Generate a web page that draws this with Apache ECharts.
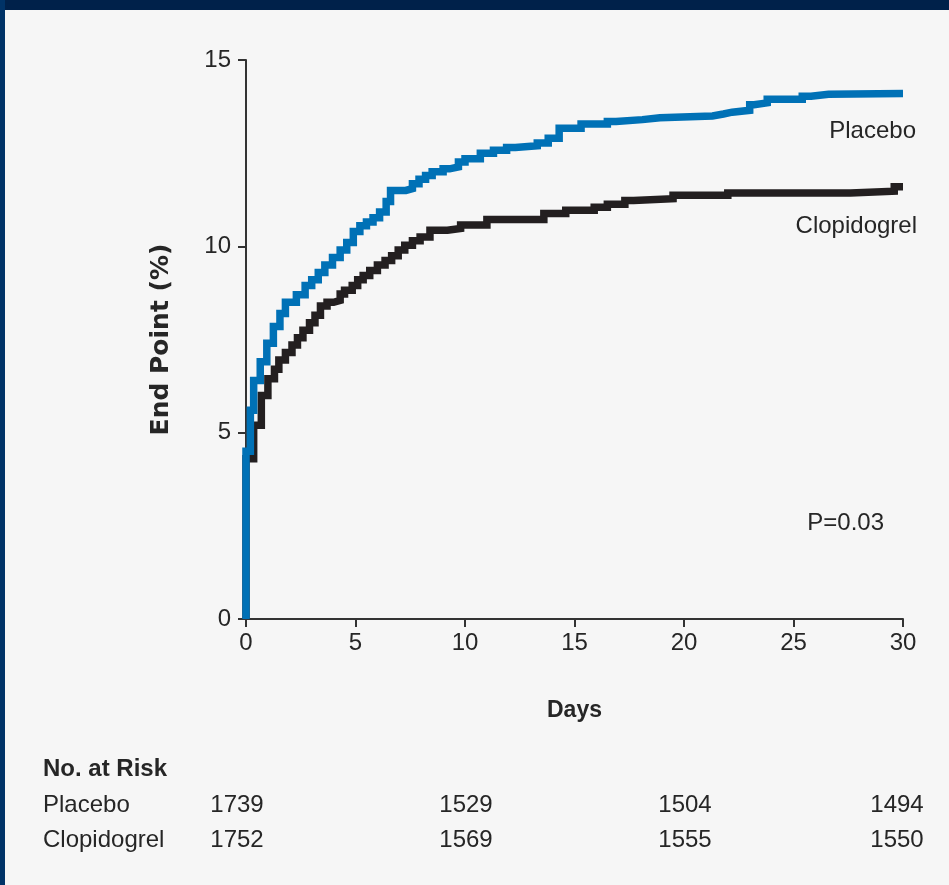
<!DOCTYPE html>
<html>
<head>
<meta charset="utf-8">
<script src="https://cdn.jsdelivr.net/npm/echarts@6/dist/echarts.min.js"></script>
<style>
html,body{margin:0;padding:0;background:#f6f6f6;}
#c{width:949px;height:885px;}
</style>
</head>
<body>
<div id="c"></div>
<script>
// ---- data ----
var placeboDays = [0, 0.2, 0.35, 0.65, 0.95, 1.25, 1.55, 1.8, 2.3, 2.7, 3.0, 3.3, 3.6, 3.95, 4.3, 4.6, 4.9, 5.2, 5.5, 5.8, 6.1, 6.4, 6.6, 7.3, 7.6, 7.9, 8.2, 8.5, 9.0, 9.3, 9.7, 10.0, 10.7, 11.3, 11.9, 12.3, 13.3, 13.8, 14.3, 15.3, 16.5, 16.9, 18.1, 18.9, 21.3, 21.8, 22.2, 23.0, 23.2, 23.8, 25.4, 25.8, 26.6, 30];
var placeboPct  = [4.5, 5.6, 6.4, 6.9, 7.4, 7.85, 8.2, 8.5, 8.7, 8.95, 9.1, 9.3, 9.5, 9.7, 9.9, 10.1, 10.4, 10.55, 10.65, 10.77, 10.92, 11.2, 11.5, 11.55, 11.68, 11.8, 11.9, 12.0, 12.08, 12.13, 12.26, 12.35, 12.5, 12.58, 12.65, 12.7, 12.77, 12.9, 13.17, 13.28, 13.35, 13.4, 13.45, 13.5, 13.55, 13.6, 13.65, 13.8, 13.85, 13.95, 14.03, 14.08, 14.1, 14.1];
var clopDays = [0, 0.35, 0.7, 1.0, 1.3, 1.5, 1.8, 2.1, 2.35, 2.6, 2.9, 3.15, 3.4, 3.7, 4.0, 4.3, 4.5, 4.85, 5.1, 5.35, 5.65, 6.0, 6.35, 6.65, 6.95, 7.25, 7.6, 7.95, 8.4, 9.2, 9.8, 11.0, 13.6, 14.6, 15.9, 16.5, 17.3, 17.7, 19.5, 22.0, 27.6, 29.6, 30];
var clopPct  = [4.3, 5.2, 6.0, 6.45, 6.7, 6.95, 7.15, 7.35, 7.55, 7.75, 7.95, 8.15, 8.4, 8.5, 8.55, 8.72, 8.82, 8.95, 9.1, 9.22, 9.35, 9.5, 9.62, 9.75, 9.9, 10.03, 10.15, 10.25, 10.43, 10.48, 10.57, 10.72, 10.88, 10.97, 11.05, 11.13, 11.23, 11.28, 11.37, 11.43, 11.48, 11.6, 11.6];
var yTicks = [0, 5, 10, 15];
var xTicks = [0, 5, 10, 15, 20, 25, 30];
var riskDays = [0, 10, 20, 30];
var riskPlacebo = [1739, 1529, 1504, 1494];
var riskClop = [1752, 1569, 1555, 1550];
var groupNames = ['Placebo', 'Clopidogrel'];
var pValueText = 'P=0.03';

// ---- styles ----
var FONT = '"Liberation Sans", Arial, sans-serif';
var TXT = '#262626';
var BLUE = '#0071b6';
var BLACK = '#231f20';
var FS = 24;

function pairs(xs, ys) {
  var out = [[0, 0]];
  for (var i = 0; i < xs.length; i++) out.push([xs[i], ys[i]]);
  return out;
}

var chart = echarts.init(document.getElementById('c'), null, {renderer: 'canvas'});
var option = {
  backgroundColor: '#f6f6f6',
  animation: false,
  grid: {left: 246, right: 46, top: 60, bottom: 266, containLabel: false},
  xAxis: {
    type: 'value', min: 0, max: 30, interval: 5,
    name: 'Days', nameLocation: 'middle', nameGap: 80,
    nameTextStyle: {fontFamily: FONT, fontWeight: 'bold', fontSize: 23, color: TXT},
    axisLine: {show: true, onZero: false, lineStyle: {color: '#333', width: 2}},
    axisTick: {show: true, inside: false, length: 8, lineStyle: {color: '#333', width: 2}},
    axisLabel: {fontFamily: FONT, fontSize: FS, color: TXT, margin: 12,
      formatter: function (v) { return xTicks.indexOf(v) >= 0 ? String(v) : ''; }},
    splitLine: {show: false}
  },
  yAxis: {
    type: 'value', min: 0, max: 15, interval: 5,
    name: 'End Point (%)', nameLocation: 'middle', nameGap: 72, nameRotate: 90,
    nameTextStyle: {fontFamily: '"DejaVu Sans", sans-serif', fontWeight: 'bold', fontSize: 25, color: TXT},
    axisLine: {show: true, onZero: false, lineStyle: {color: '#333', width: 2}},
    axisTick: {show: true, inside: false, length: 8, lineStyle: {color: '#333', width: 2}},
    axisLabel: {fontFamily: FONT, fontSize: FS, color: TXT, margin: 15,
      formatter: function (v) { return yTicks.indexOf(v) >= 0 ? String(v) : ''; }},
    splitLine: {show: false}
  },
  series: [
    {
      name: groupNames[1], type: 'line', step: 'end', symbol: 'none', z: 2,
      data: pairs(clopDays, clopPct),
      lineStyle: {color: BLACK, width: 7.5, join: 'miter', cap: 'butt'}
    },
    {
      name: groupNames[0], type: 'line', step: 'end', symbol: 'none', z: 3,
      data: pairs(placeboDays, placeboPct),
      lineStyle: {color: BLUE, width: 7.5, join: 'miter', cap: 'butt'}
    }
  ]
};
chart.setOption(option);

// ---- annotations and at-risk table ----
function txt(x, y, s, align, bold) {
  return {type: 'text', x: x, y: y, style: {text: s, font: (bold ? 'bold ' : '') + FS + 'px ' + FONT,
    fill: TXT, textAlign: align, textVerticalAlign: 'middle'}};
}
var colOffset = [-9, 1, 1, -6];
var g = [
  {type: 'rect', shape: {x: 0, y: 0, width: 949, height: 10}, style: {fill: '#00214a'}, z: 100},
  {type: 'rect', shape: {x: 0, y: 0, width: 5, height: 885}, style: {fill: '#003367'}, z: 100},
  txt(916, 131, groupNames[0], 'right'),
  txt(917, 226, groupNames[1], 'right'),
  txt(884, 523, pValueText, 'right'),
  txt(43, 769, 'No. at Risk', 'left', true),
  txt(43, 805, groupNames[0], 'left'),
  txt(43, 840, groupNames[1], 'left')
];
for (var i = 0; i < riskDays.length; i++) {
  var px = chart.convertToPixel({xAxisIndex: 0}, riskDays[i]) + colOffset[i];
  g.push(txt(px, 805, String(riskPlacebo[i]), 'center'));
  g.push(txt(px, 840, String(riskClop[i]), 'center'));
}
chart.setOption({graphic: g});
</script>
</body>
</html>
